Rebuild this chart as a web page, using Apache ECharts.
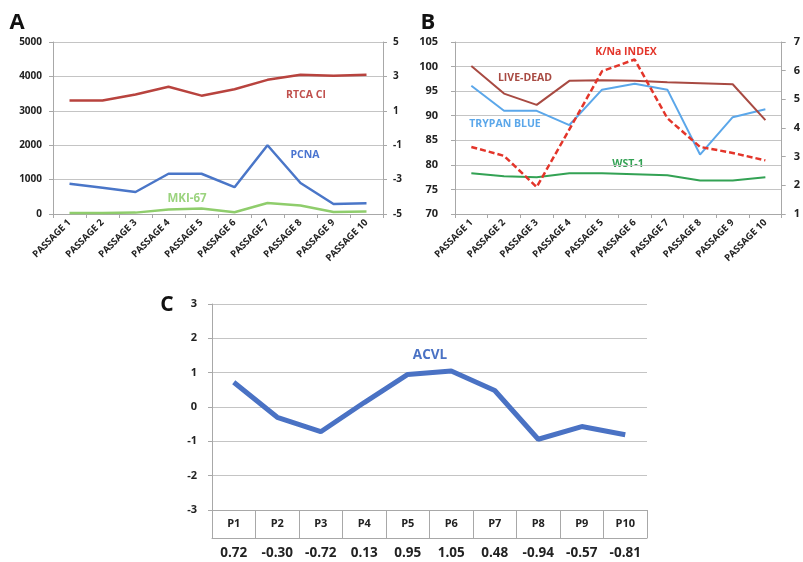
<!DOCTYPE html>
<html>
<head>
<meta charset="utf-8">
<script src="https://cdn.jsdelivr.net/npm/echarts@6/dist/echarts.min.js"></script>
<style>
  html, body { margin: 0; padding: 0; background: #fff; }
  #chart { width: 803px; height: 562px; }
</style>
</head>
<body>
<div id="chart"></div>
<script>
// 横轴类别
const passages = ['PASSAGE 1', 'PASSAGE 2', 'PASSAGE 3', 'PASSAGE 4', 'PASSAGE 5',
  'PASSAGE 6', 'PASSAGE 7', 'PASSAGE 8', 'PASSAGE 9', 'PASSAGE 10']
const shortPassages = ['P1', 'P2', 'P3', 'P4', 'P5', 'P6', 'P7', 'P8', 'P9', 'P10']

// A 图数据
const rtcaCi = [1.6, 1.6, 1.95, 2.4, 1.88, 2.25, 2.8, 3.1, 3.04, 3.1]
const pcna = [880, 760, 640, 1170, 1170, 780, 2000, 900, 290, 310]
const mki67 = [30, 30, 40, 130, 160, 50, 320, 250, 60, 70]
const rightTicksA = [-5, -3, -1, 1, 3, 5]

// B 图数据
const liveDead = [100.1, 94.5, 92.2, 97.1, 97.2, 97.1, 96.8, 96.6, 96.4, 89.1]
const trypanBlue = [96.1, 91, 91, 88.1, 95.3, 96.5, 95.3, 82.1, 89.7, 91.3]
const wst1 = [78.3, 77.7, 77.5, 78.3, 78.3, 78.1, 77.9, 76.8, 76.8, 77.5]
const kNaIndex = [3.34, 3.03, 1.94, 3.95, 5.98, 6.39, 4.34, 3.34, 3.13, 2.87]

// C 图数据
const acvl = [0.72, -0.30, -0.72, 0.13, 0.95, 1.05, 0.48, -0.94, -0.57, -0.81]

const FONT = 'Open Sans'
const GRID_COLOR = '#c4c4c4'
const AXIS_COLOR = '#a8a8a8'

function passageAxis(gridIndex) {
  return {
    type: 'category', gridIndex, data: passages, boundaryGap: true,
    axisLine: { onZero: false, lineStyle: { color: AXIS_COLOR } },
    axisTick: { show: true, length: 4, interval: 0, lineStyle: { color: AXIS_COLOR } },
    axisLabel: { rotate: 45, fontSize: 9.5, fontWeight: 'bold', fontFamily: FONT, color: '#222', margin: 7, interval: 0, hideOverlap: false },
  }
}

function valueAxis(gridIndex, position, min, max, interval, margin, fontSize, split) {
  return {
    type: 'value', gridIndex, position, min, max, interval,
    axisLine: { show: true, lineStyle: { color: AXIS_COLOR } },
    axisTick: { show: true, length: 4, lineStyle: { color: AXIS_COLOR } },
    axisLabel: { fontSize, fontWeight: 'bold', fontFamily: FONT, color: '#222', margin, formatter: v => String(v) },
    splitLine: { show: split, lineStyle: { color: GRID_COLOR } },
  }
}

function lineSeries(name, data, x, y, color, width, dashed) {
  return {
    name, type: 'line', data, xAxisIndex: x, yAxisIndex: y,
    symbol: 'none', silent: true,
    lineStyle: { color, width, type: dashed ? [6, 3] : 'solid' },
  }
}

function note(text, x, y, color, size) {
  return {
    type: 'text', x, y,
    style: { text, fill: color, font: `bold ${size}px "${FONT}"`, textAlign: 'center', textVerticalAlign: 'middle' },
  }
}

const rightA = valueAxis(0, 'right', -5, 5, undefined, 10, 10, false)
rightA.axisLabel.customValues = rightTicksA
rightA.axisTick.customValues = rightTicksA

const option = {
  animation: false,
  backgroundColor: '#fff',
  grid: [
    { left: 53, top: 42, width: 330, height: 172 },
    { left: 455, top: 42, width: 328, height: 172 },
    { left: 212, top: 304, width: 435, height: 206 },
  ],
  xAxis: [
    passageAxis(0),
    passageAxis(1),
    {
      type: 'category', gridIndex: 2, data: shortPassages, boundaryGap: true,
      axisLine: { onZero: false, lineStyle: { color: AXIS_COLOR } },
      axisTick: { show: true, length: 28, interval: 0, lineStyle: { color: AXIS_COLOR } },
      axisLabel: { fontSize: 11, fontWeight: 'bold', fontFamily: FONT, color: '#222', margin: 8, interval: 0 },
    },
    {
      type: 'category', gridIndex: 2, data: shortPassages, boundaryGap: true, position: 'bottom', offset: 28,
      axisLine: { onZero: false, lineStyle: { color: AXIS_COLOR } },
      axisTick: { show: false },
      axisLabel: {
        fontSize: 13.5, fontWeight: 'bold', fontFamily: FONT, color: '#222', margin: 8, interval: 0,
        formatter: (v, i) => acvl[i].toFixed(2),
      },
    },
  ],
  yAxis: [
    valueAxis(0, 'left', 0, 5000, 1000, 11, 10, true),
    rightA,
    valueAxis(1, 'left', 70, 105, 5, 17, 11, true),
    valueAxis(1, 'right', 1, 7, 1, 12, 11, false),
    valueAxis(2, 'left', -3, 3, 1, 15, 11, true),
  ],
  series: [
    lineSeries('MKI-67', mki67, 0, 0, '#8fcd6c', 2.5),
    lineSeries('PCNA', pcna, 0, 0, '#4a76c8', 2.5),
    lineSeries('RTCA CI', rtcaCi, 0, 1, '#b8433e', 2.5),
    lineSeries('WST-1', wst1, 1, 2, '#33a254', 2),
    lineSeries('TRYPAN BLUE', trypanBlue, 1, 2, '#5ba7ea', 2),
    lineSeries('LIVE-DEAD', liveDead, 1, 2, '#a84a42', 2),
    lineSeries('K/Na INDEX', kNaIndex, 1, 3, '#e3352a', 2.5, true),
    lineSeries('ACVL', acvl, 2, 4, '#4a72c4', 5),
  ],
  graphic: [
    note('A', 17, 23, '#111', 22),
    note('B', 428, 23, '#111', 22),
    note('C', 167, 305, '#111', 21),
    note('RTCA CI', 306, 95, '#c0504d', 10.5),
    note('PCNA', 305, 155, '#4a74d0', 10.5),
    note('MKI-67', 187, 199, '#9bd37e', 11.5),
    note('LIVE-DEAD', 525, 78, '#a84a42', 10.5),
    note('TRYPAN BLUE', 505, 124, '#5ba7ea', 10.5),
    note('K/Na INDEX', 626, 52, '#e3352a', 10.5),
    note('WST-1', 628, 164, '#33a254', 10.5),
    note('ACVL', 430, 355, '#4a72c4', 13.5),
  ],
}

const chart = echarts.init(document.getElementById('chart'))
chart.setOption(option)
</script>
</body>
</html>
